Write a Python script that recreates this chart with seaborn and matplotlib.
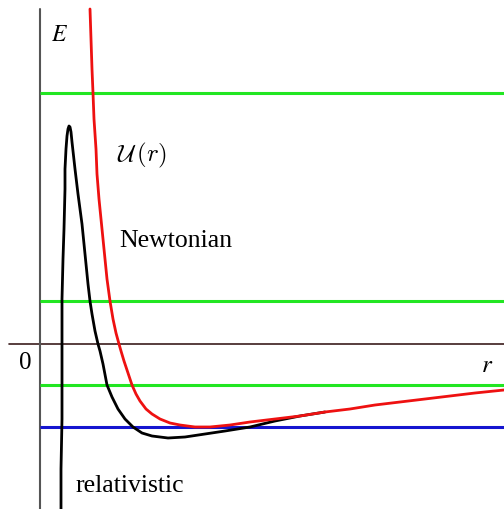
import numpy as np
import pandas as pd
import matplotlib
matplotlib.use("Agg")
import matplotlib.pyplot as plt
import seaborn as sns

# Data (arbitrary units: r to the right, U upward)
# values read as pixel positions: r = (px-40)/100, U = (345-py)/100
newton_px = [90, 91, 92, 93, 94, 96, 97, 99, 101, 103, 105, 107, 110, 113, 116,
             119, 121, 124, 128, 132, 136, 140, 146, 152, 160, 170, 180, 195,
             210, 230, 250, 275, 300, 325, 350, 375, 400, 425, 450, 475, 504]
newton_py = [10, 40, 70, 94, 120, 150, 175, 200, 220, 240, 260, 280, 302, 320,
             334, 345, 352, 362, 374, 386, 395, 402, 410, 415, 420, 424, 426,
             428, 428, 426, 423, 420, 417, 413, 410, 406, 403, 400, 397, 394, 391]
rel_px = [61, 61, 62, 62, 62, 62, 63, 64, 65, 65, 66, 67, 68, 69, 70, 71, 72,
          73, 75, 78, 80, 82, 84, 86, 88, 90, 92, 95, 98, 100, 103, 107, 112,
          118, 125, 133, 142, 152, 168, 185, 205, 225, 250, 275, 300, 325]
rel_py = [512, 470, 420, 380, 345, 300, 260, 230, 190, 170, 150, 137, 130, 127,
          128, 133, 143, 152, 170, 195, 210, 225, 245, 265, 285, 302, 315, 332,
          345, 352, 365, 386, 398, 410, 420, 428, 434, 437, 439, 438, 435, 432,
          428, 422, 417, 413]
green_levels_py = [94, 302, 386]
blue_level_py = [428]

def to_r(px):
    return (np.asarray(px, float) - 40) / 100.0

def to_u(py):
    return (345 - np.asarray(py, float)) / 100.0

newton = pd.DataFrame({"r": to_r(newton_px), "U": to_u(newton_py)})
rel = pd.DataFrame({"r": to_r(rel_px), "U": to_u(rel_py)})
green_levels = to_u(green_levels_py)
blue_levels = to_u(blue_level_py)

sns.set_theme(style="white")
plt.rcParams["font.family"] = ["Liberation Serif", "DejaVu Serif"]
plt.rcParams["mathtext.fontset"] = "stix"
plt.rcParams["text.color"] = "black"

fig = plt.figure(figsize=(5.04, 5.10), dpi=100)
ax = fig.add_axes([0, 0, 1, 1])
xmin, xmax = to_r(0), to_r(504)

# axes lines
ax.plot([to_r(9), xmax], [0, 0], color="#3b1c1c", lw=1.2, zorder=1)
ax.plot([0, 0], [to_u(10), to_u(510)], color="#555555", lw=1.5, zorder=1)

ax.hlines(green_levels, 0, xmax, color="#22e622", lw=2.2, zorder=2)
ax.hlines(blue_levels, 0, xmax, color="#1515d0", lw=2.2, zorder=2)

sns.lineplot(data=rel, x="r", y="U", sort=False, estimator=None,
             color="black", lw=2.0, ax=ax, zorder=3)
sns.lineplot(data=newton, x="r", y="U", sort=False, estimator=None,
             color="#ee1111", lw=2.0, ax=ax, zorder=4)
ax.set_xlim(xmin, xmax)
ax.set_ylim(to_u(510), to_u(0))
ax.axis("off")

ax.text(to_r(60), to_u(36), r"$E$", fontsize=17, ha="center", va="center",
        color="black")
ax.text(to_r(117), to_u(155), r"$\mathcal{U}\,(r)$", fontsize=18, ha="left",
        va="center", color="black", math_fontfamily="cm")
ax.text(to_r(119), to_u(241), "Newtonian", fontsize=18.5, ha="left",
        va="center", color="black")
ax.text(to_r(75), to_u(486), "relativistic", fontsize=18.5, ha="left",
        va="center", color="black")
ax.text(to_r(25), to_u(363), "0", fontsize=18, ha="center", va="center",
        color="black")
ax.text(to_r(487), to_u(366), r"$r$", fontsize=18, ha="center", va="center",
        color="black")

fig.savefig("out.png", dpi=100)
